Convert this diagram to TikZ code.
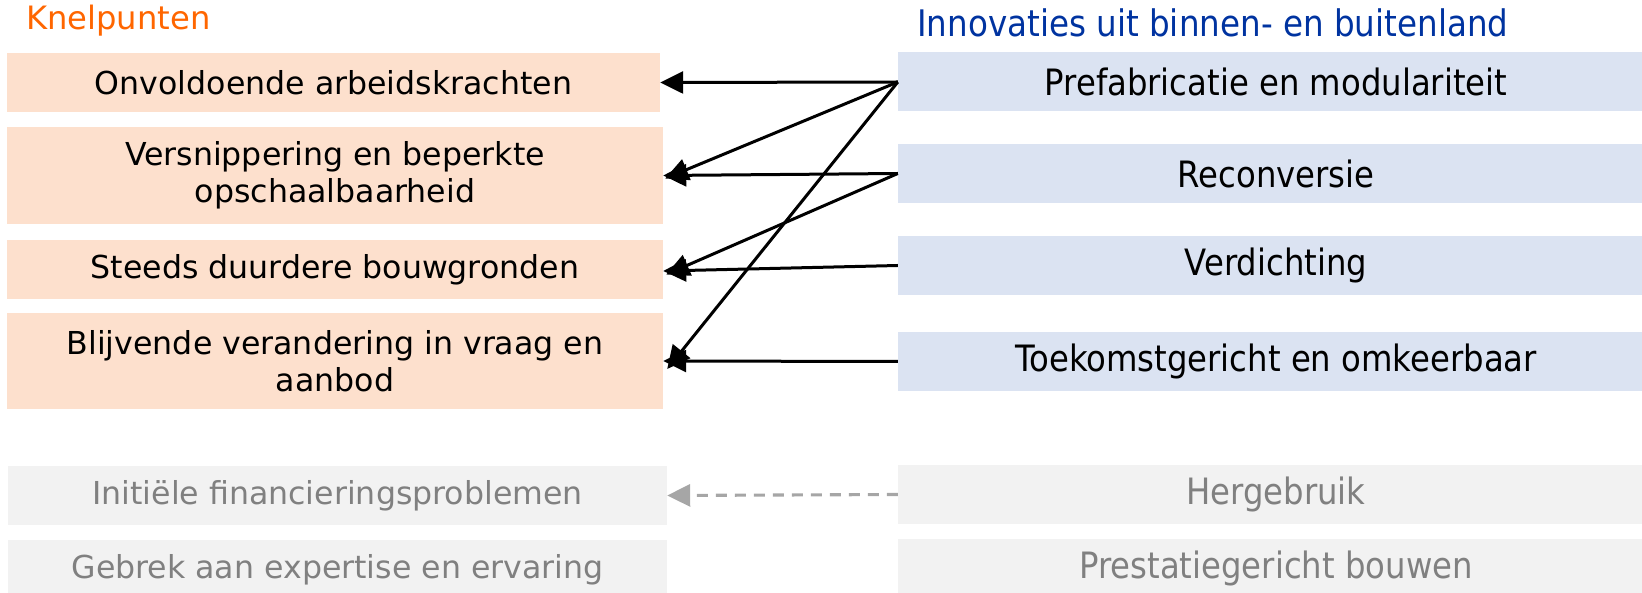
\documentclass[tikz,border=0pt]{standalone}
\usepackage{fontspec}
\setmainfont{DejaVu Sans}
\newfontfamily\rfont[FakeStretch=0.89]{DejaVu Sans}
\usetikzlibrary{arrows.meta}
\definecolor{peach}{RGB}{253,224,205}
\definecolor{lblue}{RGB}{219,227,242}
\definecolor{lgrey}{RGB}{242,242,242}
\definecolor{ttlorange}{RGB}{255,102,0}
\definecolor{ttlblue}{RGB}{0,51,160}
\definecolor{txtgrey}{RGB}{128,128,128}
\definecolor{arrgrey}{RGB}{166,166,166}
\tikzset{
  lbox/.style={fill=peach, inner sep=0pt, minimum width=656pt, minimum height=59pt, align=center,
    font=\fontsize{31.6}{37.5}\selectfont},
  rbox/.style={fill=lblue, inner sep=0pt, minimum width=756pt, minimum height=59pt, align=center,
    font=\rfont\fontsize{36.3}{42}\selectfont},
  gbox/.style={fill=lgrey, text=txtgrey, inner sep=0pt, minimum width=659pt, minimum height=59pt, align=center,
    font=\fontsize{31.6}{37.5}\selectfont},
  grbox/.style={fill=lgrey, text=txtgrey, inner sep=0pt, minimum width=756pt, minimum height=59pt, align=center,
    font=\rfont\fontsize{36.3}{42}\selectfont},
  conn/.style={draw=black, line width=3pt, -{Triangle[length=23pt,width=22pt]}},
  dconn/.style={draw=arrgrey, line width=3.1pt, dash pattern=on 11pt off 8pt, -{Triangle[length=23pt,width=22pt]}},
}
\begin{document}
\begin{tikzpicture}[x=1pt,y=-1pt]
\useasboundingbox (0,0) rectangle (1642,593);
\clip (0,0) rectangle (1642,593);
% titles
\node[anchor=base west, inner sep=0pt, text=ttlorange, font=\fontsize{32.2}{36}\selectfont] (t1) at (26,30) {Knelpunten};
\node[anchor=base west, inner sep=0pt, text=ttlblue, font=\rfont\fontsize{36.6}{42}\selectfont] (t2) at (917,37) {Innovaties uit binnen- en buitenland};
% left boxes
\node[lbox, minimum width=653pt] (l1) at (333.5,82.5) {Onvoldoende arbeidskrachten};
\node[lbox, minimum height=97pt] (l2) at (335,175.5) {\raisebox{-2pt}{\parbox{650pt}{\centering Versnippering en beperkte\\[-0.5pt]opschaalbaarheid}}};
\node[lbox] (l3) at (335,269.5) {Steeds duurdere bouwgronden};
\node[lbox, minimum height=96pt] (l4) at (335,361) {Blijvende verandering in vraag en\\aanbod};
\node[gbox] (l5) at (337.5,495.5) {Initiële financieringsproblemen};
\node[gbox] (l6) at (337.5,569.5) {Gebrek aan expertise en ervaring};
% right boxes
\node[rbox] (r1) at (1276,82) {Prefabricatie en modulariteit};
\node[rbox] (r2) at (1276,173.5) {Reconversie};
\node[rbox] (r3) at (1276,265.5) {Verdichting};
\node[rbox] (r4) at (1276,361.5) {Toekomstgericht en omkeerbaar};
\node[grbox] (r5) at (1276,494.5) {Hergebruik};
\node[grbox] (r6) at (1276,568.5) {Prestatiegericht bouwen};
% connectors
\draw[conn] (r1.west) -- (l1.east);
\draw[conn] (r1.west) -- ([xshift=2pt,yshift=-3pt]l2.east);
\draw[conn] (r1.west) -- ([xshift=4pt,yshift=-8pt]l4.east);
\draw[conn] (r2.west) -- (l2.east);
\draw[conn] (r2.west) -- ([xshift=3pt,yshift=-5pt]l3.east);
\draw[conn] (r3.west) -- ([yshift=-1.5pt]l3.east);
\draw[conn] (r4.west) -- (l4.east);
\draw[dconn] (r5.west) -- (l5.east);
\end{tikzpicture}
\end{document}
